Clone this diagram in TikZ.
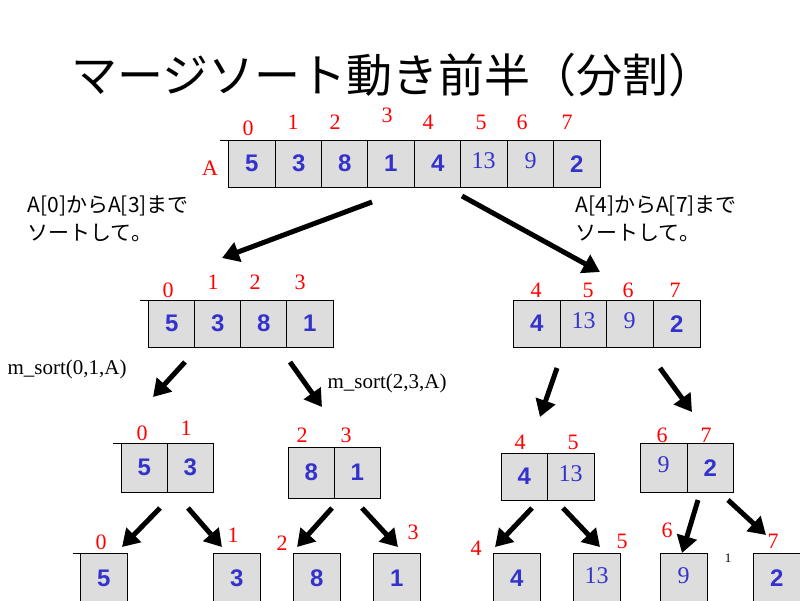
\documentclass[tikz,border=0pt]{standalone}
\usepackage{fontspec}
\setmainfont{Liberation Serif}
\newfontfamily\cjk{Noto Sans CJK JP}
\newfontfamily\vsans{Liberation Sans}
\usetikzlibrary{arrows.meta,positioning}
\definecolor{valblue}{RGB}{51,51,204}
\definecolor{cellgray}{RGB}{221,221,221}
\tikzset{
  cellbox/.style={draw,fill=cellgray,inner sep=0pt,anchor=north west},
  val/.style={text=valblue,font=\vsans\bfseries\fontsize{24}{24}\selectfont},
  sval/.style={text=valblue,font=\fontsize{24}{24}\selectfont,yshift=3pt},
  idx/.style={text=red,font=\fontsize{22}{22}\selectfont},
  note/.style={font=\cjk\fontsize{21}{28}\selectfont,align=left,anchor=north west},
  call/.style={font=\fontsize{21}{21}\selectfont,anchor=west},
  bigarrow/.style={line width=5pt,-{Triangle[length=17pt,width=20pt]}}
}
% cell: name, x, y, width, height, style, text
\newcommand{\cellat}[7]{\node[cellbox,minimum width=#4pt,minimum height=#5pt] (#1) at (#2,#3) {};
  \node[#6] at (#1.center) {#7};}
\begin{document}
\begin{tikzpicture}[x=1pt,y=-1pt]
\useasboundingbox (0,0) rectangle (800,600);
\node[font=\cjk\fontsize{46}{46}\selectfont] (title) at (393,75) {マージソート動き前半（分割）};
% level 0
\draw (220,140) -- (228,140);
\foreach \v/\x/\s [count=\i from 0] in {5/228/val,3/275/val,8/321/val,1/367/val,4/414/val,13/460/sval,9/507/sval,2/553/val}
  {\cellat{a\i}{\x}{140}{47}{47}{\s}{\v}}
\node[idx] (lA) at (210,168) {A};
\foreach \t/\x/\y in {0/248/128,1/293/122,2/335/122,3/387/115,4/428/122,5/481/122,6/522/122,7/567/122}
  \node[idx] at (\x,\y) {\t};
\node[note] (n1) at (24,192) {A[0]からA[3]まで\\ソートして。};
\node[note] (n2) at (572,192) {A[4]からA[7]まで\\ソートして。};
% level 1
\draw (140,300) -- (148,300);
\foreach \v/\x/\s [count=\i from 0] in {5/148/val,3/194/val,8/240/val,1/286/val}
  {\cellat{b\i}{\x}{300}{47}{47}{\s}{\v}}
\foreach \v/\x/\s [count=\i from 4] in {4/513/val,13/560/sval,9/606/sval,2/653/val}
  {\cellat{b\i}{\x}{300}{47}{47}{\s}{\v}}
\foreach \t/\x/\y in {0/168/290,1/213/282,2/255/282,3/300/282,4/536/290,5/588/290,6/628/290,7/675/290}
  \node[idx] at (\x,\y) {\t};
\node[call] (call1) at (4,369) {m\_sort(0,1,A)};
\node[call] (call2) at (324,383) {m\_sort(2,3,A)};
% level 2
\draw (113,443) -- (121,443);
\cellat{c0}{121}{443}{46}{49}{val}{5}
\cellat{c1}{167}{443}{46}{49}{val}{3}
\cellat{c2}{288}{447}{46}{51}{val}{8}
\cellat{c3}{334}{447}{46}{51}{val}{1}
\cellat{c4}{501}{453}{46}{47}{val}{4}
\cellat{c5}{547}{453}{47}{47}{sval}{13}
\cellat{c6}{640}{443}{47}{49}{sval}{9}
\cellat{c7}{687}{443}{46}{49}{val}{2}
\foreach \t/\x/\y in {0/142/433,1/186/428,2/302/435,3/346/435,4/520/442,5/573/442,6/662/435,7/706/435}
  \node[idx] at (\x,\y) {\t};
% level 3
\draw (73,553) -- (80,553);
\foreach \v/\x/\s [count=\i from 0] in {5/80/val,3/213/val,8/293/val,1/373/val,4/493/val,13/573/sval,9/660/sval,2/753/val}
  {\cellat{d\i}{\x}{553}{47}{50}{\s}{\v}}
\foreach \t/\x/\y in {0/101/542,1/233/535,2/282/543,3/413/532,4/476/548,5/622/541,6/667/530,7/773/541}
  \node[idx] at (\x,\y) {\t};
\node[font=\fontsize{13}{13}\selectfont] (one) at (728,558) {1};
% arrows
\foreach \n/\sx/\sy/\ex/\ey in {p0/372/202/222/258, p1/462/196/600/272,
  p2/185/362/153/397, p3/290/362/322/407, p4/557/368/540/417, p5/660/368/692/412,
  p6/160/508/122/547, p7/188/508/222/547, p8/332/508/297/547, p9/362/508/398/547,
  p10/532/508/495/547, p11/563/508/600/547, p12/698/500/682/553, p13/728/500/766/535}
  {\coordinate (\n s) at (\sx,\sy); \coordinate (\n e) at (\ex,\ey);
   \draw[bigarrow] (\n s) -- (\n e);}
\end{tikzpicture}
\end{document}
